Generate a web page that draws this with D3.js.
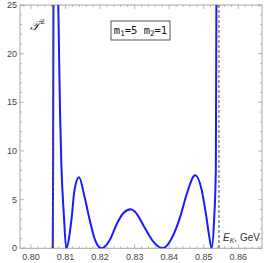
<!DOCTYPE html>
<html>
<head>
<meta charset="utf-8">
<script src="https://cdn.jsdelivr.net/npm/d3@7"></script>
<style>
  body { margin: 0; background: #fff; }
  svg { display: block; }
</style>
</head>
<body>
<div id="chart"></div>
<script>
"use strict"

// Curve samples (energy in GeV, value of T^2)
const energy = [0.8063, 0.8064, 0.8066, 0.8070, 0.8079, 0.8084, 0.8088, 0.8095, 0.8102,
  0.8117, 0.8126, 0.8139, 0.8155, 0.8170, 0.8184, 0.8204,
  0.8228, 0.8247, 0.8267, 0.8289, 0.8301, 0.8330, 0.8354, 0.8381,
  0.8407, 0.8432, 0.8451, 0.8475, 0.8494, 0.8506, 0.8516, 0.8523,
  0.8530, 0.8535, 0.8538];
const tsq = [0, 8, 40, 60, 25, 14, 8.5, 3.5, 0,
  2.9, 6.0, 7.3, 5.3, 2.9, 1.0, 0,
  0.85, 2.4, 3.6, 4.0, 3.76, 2.05, 0.68, 0,
  1.0, 3.25, 5.6, 7.5, 6.0, 3.6, 1.2, 0,
  2.9, 8.0, 40];

// Thresholds (dashed verticals)
const thresholds = [0.8064, 0.8544];

const xTicks = [0.80, 0.81, 0.82, 0.83, 0.84, 0.85, 0.86];
const yTicks = [0, 5, 10, 15, 20, 25];

const legendText = ["m", "1", "=5 m", "2", "=1"];

function plotData() {
  const figWidth = 266;
  const figHeight = 263;

  const frame = {left: 20, right: 262, top: 5, bottom: 248.3};

  const svg = d3.select("#chart").append("svg")
    .attr("width", figWidth)
    .attr("height", figHeight);

  const xScale = d3.scaleLinear()
    .domain([0.79682, 0.86686])
    .range([frame.left, frame.right]);

  const yScale = d3.scaleLinear()
    .domain([0, 25])
    .range([frame.bottom, frame.top]);

  const frameColor = "#a6a6a6";
  const labelColor = "#444";
  const font = "'Liberation Sans', Arial, sans-serif";

  // clip for the curve
  svg.append("clipPath")
    .attr("id", "clip")
    .append("rect")
      .attr("x", frame.left)
      .attr("y", frame.top)
      .attr("width", frame.right - frame.left)
      .attr("height", frame.bottom - frame.top);

  // minor ticks
  const xMinor = d3.range(0.798, 0.8668, 0.002).filter(v => Math.abs(Math.round(v*100) - v*100) > 1e-6);
  const yMinor = d3.range(0, 25.01, 1).filter(v => v % 5 !== 0);

  // Axes with inward ticks (Mathematica frame style)
  const axes = svg.append("g").attr("class", "axes");

  function drawTicks(values, len) {
    values.forEach(v => {
      const x = xScale(v);
      axes.append("line")
        .attr("x1", x).attr("x2", x)
        .attr("y1", frame.bottom).attr("y2", frame.bottom - len)
        .attr("stroke", frameColor).attr("stroke-width", 0.8);
      axes.append("line")
        .attr("x1", x).attr("x2", x)
        .attr("y1", frame.top).attr("y2", frame.top + len)
        .attr("stroke", frameColor).attr("stroke-width", 0.8);
    });
  }
  function drawYTicks(values, len) {
    values.forEach(v => {
      const y = yScale(v);
      axes.append("line")
        .attr("x1", frame.left).attr("x2", frame.left + len)
        .attr("y1", y).attr("y2", y)
        .attr("stroke", frameColor).attr("stroke-width", 0.8);
      axes.append("line")
        .attr("x1", frame.right).attr("x2", frame.right - len)
        .attr("y1", y).attr("y2", y)
        .attr("stroke", frameColor).attr("stroke-width", 0.8);
    });
  }
  drawTicks(xTicks, 4);
  drawTicks(xMinor, 2);
  drawYTicks(yTicks, 4);
  drawYTicks(yMinor, 2);

  // frame
  axes.append("rect")
    .attr("x", frame.left)
    .attr("y", frame.top)
    .attr("width", frame.right - frame.left)
    .attr("height", frame.bottom - frame.top)
    .attr("fill", "none")
    .attr("stroke", frameColor)
    .attr("stroke-width", 1);

  // tick labels
  svg.append("g").selectAll("text")
    .data(xTicks)
    .enter().append("text")
      .attr("x", d => xScale(d))
      .attr("y", frame.bottom + 12)
      .attr("text-anchor", "middle")
      .attr("font-family", font)
      .attr("font-size", 9)
      .attr("fill", labelColor)
      .text(d => d3.format(".2f")(d));

  svg.append("g").selectAll("text")
    .data(yTicks)
    .enter().append("text")
      .attr("x", frame.left - 3)
      .attr("y", d => yScale(d) + 3)
      .attr("text-anchor", "end")
      .attr("font-family", font)
      .attr("font-size", 9)
      .attr("fill", labelColor)
      .text(d => d);

  // the curve
  const points = energy.map((e, i) => [e, tsq[i]]);
  const line = d3.line()
    .x(d => xScale(d[0]))
    .y(d => yScale(d[1]))
    .curve(d3.curveMonotoneX);

  svg.append("path")
    .datum(points)
    .attr("clip-path", "url(#clip)")
    .attr("d", line)
    .attr("fill", "none")
    .attr("stroke", "#1a1aff")
    .attr("stroke-width", 2);

  // dashed thresholds (drawn over the curve)
  svg.append("g").selectAll("line")
    .data(thresholds)
    .enter().append("line")
      .attr("x1", d => xScale(d)).attr("x2", d => xScale(d))
      .attr("y1", frame.top).attr("y2", frame.bottom)
      .attr("stroke", "#555")
      .attr("stroke-width", 1.1)
      .attr("stroke-dasharray", "3,2");

  // y label
  const ylab = svg.append("text")
    .attr("x", 30)
    .attr("y", 30)
    .attr("font-family", "'DejaVu Serif', serif")
    .attr("font-size", 13)
    .attr("fill", "#333");
  ylab.append("tspan").attr("font-style", "italic").text("\u{1D4AF}");
  ylab.append("tspan").attr("dy", -6).attr("font-size", 8).text("2");

  // x label
  const xlab = svg.append("text")
    .attr("x", 223)
    .attr("y", 241)
    .attr("font-family", font)
    .attr("font-size", 10)
    .attr("fill", "#333");
  xlab.append("tspan").attr("font-style", "italic").text("E");
  xlab.append("tspan").attr("font-style", "italic").attr("font-size", 7).attr("dy", 2).text("K");
  xlab.append("tspan").attr("dy", -2).text(", GeV");

  // legend box
  const legend = svg.append("g");
  legend.append("rect")
    .attr("x", 111).attr("y", 21)
    .attr("width", 59).attr("height", 19)
    .attr("fill", "#fff")
    .attr("stroke", "#555")
    .attr("stroke-width", 1);
  const lt = legend.append("text")
    .attr("x", 140.5).attr("y", 34)
    .attr("text-anchor", "middle")
    .attr("font-family", "'DejaVu Sans Mono', monospace")
    .attr("font-size", 10.5)
    .attr("fill", "#111");
  legendText.forEach((s, i) => {
    const sub = i % 2 === 1;
    lt.append("tspan")
      .attr("font-size", sub ? 7.5 : 10.5)
      .attr("dy", sub ? 2 : (i === 0 ? 0 : -2))
      .text(s);
  });
}

plotData();
</script>
</body>
</html>
